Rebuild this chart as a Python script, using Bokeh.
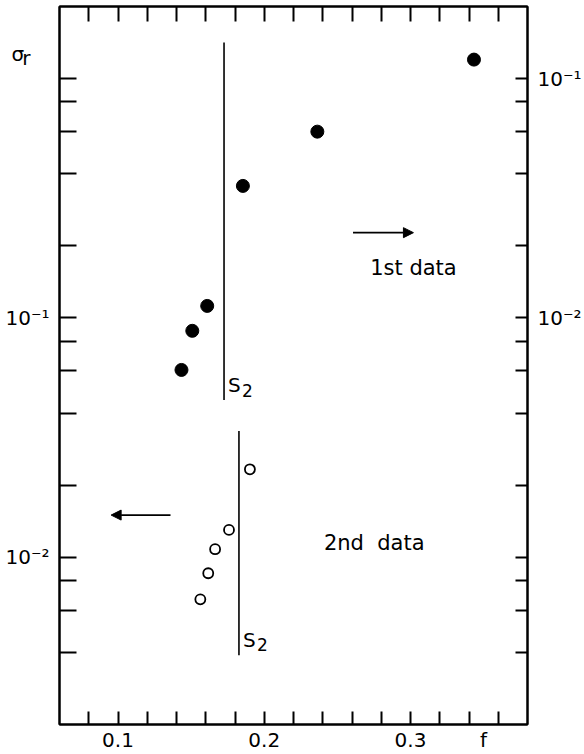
from bokeh.plotting import figure
from bokeh.models import (Range1d, LogAxis, LinearAxis, LogScale, FixedTicker, AllLabels,
                          CustomJSTickFormatter, Label, Arrow, NormalHead)
from bokeh.embed import file_html
from bokeh.resources import INLINE

# ---- data ----
f_first = [0.1434, 0.1508, 0.1610, 0.1854, 0.2363, 0.3434]
sigma_first = [0.00606, 0.00883, 0.01122, 0.0356, 0.0600, 0.120]   # right axis

f_second = [0.1563, 0.1617, 0.1664, 0.1759, 0.1902]
sigma_second = [0.00667, 0.00857, 0.0108, 0.0130, 0.0233]          # left axis

s2_f = [0.1725, 0.1827]
s2_top = [1.415, 0.0337]
s2_bottom = [0.0454, 0.00389]
s2_label_y = [0.0522, 0.00452]

x_ticks = [0.08, 0.10, 0.12, 0.14, 0.16, 0.18, 0.20, 0.22, 0.24, 0.26, 0.28, 0.30, 0.32, 0.34, 0.36]
x_label_ticks = [0.1, 0.2, 0.3, 0.35]
x_label_texts = ["0.1", "0.2", "0.3", "f"]

left_ticks = [0.004, 0.006, 0.008, 0.01, 0.02, 0.04, 0.06, 0.08, 0.1, 0.2, 0.4, 0.6, 0.8, 1.0]
left_label_ticks = [0.01, 0.1, 1.266, 1.218]
left_label_texts = ["10\u207b\u00b2", "10\u207b\u00b9",
                    "\u03c3\u00a0\u00a0\u00a0\u00a0", "r\u00a0\u00a0\u00a0"]

right_ticks = [0.0004, 0.0006, 0.0008, 0.001, 0.002, 0.004, 0.006, 0.008, 0.01, 0.02, 0.04, 0.06, 0.08, 0.1]
right_label_ticks = [0.01, 0.1]
right_label_texts = ["10\u207b\u00b2", "10\u207b\u00b9"]

FONT = "DejaVu Sans"

fmt_code = """
for (let i = 0; i < vals.length; i++) {
  if (Math.abs(tick / vals[i] - 1) < 1e-6) return texts[i];
}
return "";
"""

def formatter(vals, texts):
    return CustomJSTickFormatter(args=dict(vals=vals, texts=texts), code=fmt_code)

p = figure(width=584, height=754, output_backend="svg", toolbar_location=None,
           x_range=Range1d(0.06, 0.38), y_range=Range1d(0.002, 2.0),
           y_axis_type="log", x_axis_type="linear",
           min_border_left=59, min_border_right=53, min_border_top=6, min_border_bottom=29)
p.grid.visible = False
p.background_fill_color = "white"
p.border_fill_color = "white"
p.outline_line_color = "black"
p.outline_line_width = 2

p.extra_y_ranges = {"right": Range1d(0.0002, 0.2)}
p.extra_y_scales = {"right": LogScale()}

def style(ax, tick_in, standoff):
    ax.axis_line_color = "black"
    ax.axis_line_width = 2
    ax.major_tick_line_color = None
    ax.major_tick_in = 0
    ax.major_tick_out = 0
    ax.minor_tick_line_color = "black"
    ax.minor_tick_line_width = 2
    ax.minor_tick_in = tick_in
    ax.minor_tick_out = 0
    ax.major_label_text_font = FONT
    ax.major_label_text_font_size = "20px"
    ax.major_label_text_color = "black"
    ax.major_label_standoff = standoff
    ax.major_label_policy = AllLabels()

# bottom axis
xb = p.xaxis[0]
xb.ticker = FixedTicker(ticks=x_label_ticks, minor_ticks=x_ticks)
xb.formatter = formatter(x_label_ticks, x_label_texts)
style(xb, 13, 3)

# left axis
yl = p.yaxis[0]
yl.ticker = FixedTicker(ticks=left_label_ticks, minor_ticks=left_ticks)
yl.formatter = formatter(left_label_ticks, left_label_texts)
style(yl, 17, 10)

# right axis
yr = LogAxis(y_range_name="right",
             ticker=FixedTicker(ticks=right_label_ticks, minor_ticks=right_ticks),
             formatter=formatter(right_label_ticks, right_label_texts))
style(yr, 12, 10)
p.add_layout(yr, "right")

# top axis (ticks only)
xt = LinearAxis(ticker=FixedTicker(ticks=[], minor_ticks=x_ticks),
                formatter=formatter([], []))
style(xt, 15, 0)
xt.major_label_text_font_size = "0px"
p.add_layout(xt, "above")

# S2 lines
p.segment(x0=s2_f, y0=s2_bottom, x1=s2_f, y1=s2_top, line_color="black", line_width=1.6)

# data
p.scatter(f_first, sigma_first, y_range_name="right", size=13,
          fill_color="black", line_color="black")
p.scatter(f_second, sigma_second, size=10, fill_color="white",
          line_color="black", line_width=1.8)

# arrows
p.add_layout(Arrow(end=NormalHead(size=10, fill_color="black", line_color="black"),
                   x_start=0.2607, y_start=0.227, x_end=0.302, y_end=0.227,
                   line_color="black", line_width=1.8))
p.add_layout(Arrow(end=NormalHead(size=10, fill_color="black", line_color="black"),
                   x_start=0.1359, y_start=0.0150, x_end=0.0953, y_end=0.0150,
                   line_color="black", line_width=1.8))

def lab(x, y, text, size="21px", align="center", baseline="middle", dx=0, dy=0):
    p.add_layout(Label(x=x, y=y, text=text, text_font=FONT, text_font_size=size,
                       text_align=align, text_baseline=baseline, text_color="black",
                       x_offset=dx, y_offset=dy))

lab(0.302, 0.162, "1st data")
lab(0.2752, 0.01145, "2nd\u00a0\u00a0data")
for fx, fy in zip(s2_f, s2_label_y):
    lab(fx, fy, "S", size="20px", align="left", dx=4)
    lab(fx, fy, "2", size="17px", align="left", dx=18, dy=-5)

open("out.html", "w").write(file_html(p, INLINE))
